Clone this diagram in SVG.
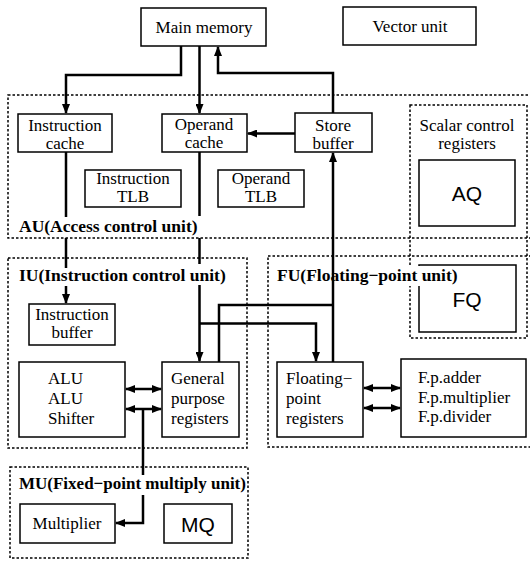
<svg xmlns="http://www.w3.org/2000/svg" width="530" height="564" viewBox="0 0 530 564">
<style>
.box{fill:#fff;stroke:#000;stroke-width:1.5}
.unit{fill:none;stroke:#000;stroke-width:1.5;stroke-dasharray:2.5 2}
.t{font-family:"Liberation Serif","Times New Roman",serif;font-size:17px;fill:#000}
.c{text-anchor:middle}
.lb{font-family:"Liberation Serif","Times New Roman",serif;font-size:17.5px;font-weight:bold;fill:#000}
.q{font-family:"Liberation Sans",Arial,sans-serif;font-size:21px;fill:#000;text-anchor:middle}
.w{fill:none;stroke:#000;stroke-width:2.5}
</style>
<defs>
<marker id="ah" viewBox="0 0 10 8" refX="9" refY="4" markerWidth="10" markerHeight="8" markerUnits="userSpaceOnUse" orient="auto-start-reverse">
<path d="M0,0 L10,4 L0,8 z" fill="#000"/>
</marker>
</defs>
<rect width="530" height="564" fill="#fff"/>

<g id="au">
<rect class="unit" x="8" y="95" width="530" height="143"/>
<text class="lb" x="19" y="232">AU(Access control unit)</text>
</g>
<g id="scalar">
<rect class="unit" x="410" y="105" width="117" height="233"/>
<text class="t c" x="467" y="131">Scalar control</text>
<text class="t c" x="467" y="149">registers</text>
</g>
<g id="iu">
<rect class="unit" x="8" y="258" width="239" height="190"/>
<text class="lb" x="19" y="281">IU(Instruction control unit)</text>
</g>
<g id="mu">
<rect class="unit" x="10" y="467" width="238" height="91"/>
<text class="lb" x="19" y="489" style="font-size:17px">MU(Fixed−point multiply unit)</text>
</g>

<g id="main-memory"><rect class="box" x="141" y="8" width="125" height="38"/><text class="t c" x="204" y="33">Main memory</text></g>
<g id="vector-unit"><rect class="box" x="343" y="7" width="133" height="38"/><text class="t c" x="410" y="32">Vector unit</text></g>
<g id="instruction-cache"><rect class="box" x="18" y="114" width="94" height="38"/><text class="t c" x="65" y="131">Instruction</text><text class="t c" x="65" y="149">cache</text></g>
<g id="operand-cache"><rect class="box" x="162" y="114" width="85" height="38"/><text class="t c" x="204" y="130">Operand</text><text class="t c" x="204" y="148">cache</text></g>
<g id="store-buffer"><rect class="box" x="295" y="113" width="77" height="39"/><text class="t c" x="333" y="131">Store</text><text class="t c" x="333" y="149">buffer</text></g>
<g id="instruction-tlb"><rect class="box" x="85" y="170" width="96" height="37"/><text class="t c" x="133" y="184">Instruction</text><text class="t c" x="133" y="202">TLB</text></g>
<g id="operand-tlb"><rect class="box" x="218" y="170" width="86" height="37"/><text class="t c" x="261" y="184">Operand</text><text class="t c" x="261" y="202">TLB</text></g>
<g id="aq"><rect class="box" x="419" y="160" width="96" height="66"/><text class="q" x="467" y="201">AQ</text></g>
<g id="fq"><rect class="box" x="419" y="265" width="97" height="67"/><text class="q" x="467" y="307">FQ</text></g>
<g id="fu">
<rect class="unit" x="268" y="256" width="270" height="191"/>
<rect x="274" y="266" width="184" height="20" fill="#fff"/>
<text class="lb" x="277" y="281">FU(Floating−point unit)</text>
</g>
<g id="instruction-buffer"><rect class="box" x="29" y="304" width="86" height="41"/><text class="t c" x="72" y="320">Instruction</text><text class="t c" x="72" y="338">buffer</text></g>
<g id="alu"><rect class="box" x="19" y="362" width="106" height="75"/><text class="t" x="48" y="384">ALU</text><text class="t" x="48" y="404">ALU</text><text class="t" x="48" y="424">Shifter</text></g>
<g id="gpr"><rect class="box" x="162" y="362" width="77" height="75"/><text class="t" x="171" y="384">General</text><text class="t" x="171" y="404">purpose</text><text class="t" x="171" y="424">registers</text></g>
<g id="fpr"><rect class="box" x="277" y="362" width="86" height="75"/><text class="t" x="286" y="384">Floating−</text><text class="t" x="286" y="404">point</text><text class="t" x="286" y="424">registers</text></g>
<g id="fp-units"><rect class="box" x="401" y="359" width="125" height="78"/><text class="t" x="418" y="383">F.p.adder</text><text class="t" x="418" y="403">F.p.multiplier</text><text class="t" x="418" y="422">F.p.divider</text></g>
<g id="multiplier"><rect class="box" x="20" y="504" width="95" height="39"/><text class="t c" x="67" y="529">Multiplier</text></g>
<g id="mq"><rect class="box" x="164" y="504" width="68" height="39"/><text class="q" x="198" y="532">MQ</text></g>

<g id="connectors">
<path class="w" d="M181,46 V75 H66 V113" marker-end="url(#ah)"/>
<path class="w" d="M199.5,46 V113" marker-end="url(#ah)"/>
<path class="w" d="M333,113 V73 H218 V47" marker-end="url(#ah)"/>
<path class="w" d="M295,133.5 H248" marker-end="url(#ah)"/>
<path class="w" d="M66,152 V217 M66,238 V268 M66,286 V303" marker-end="url(#ah)"/>
<path class="w" d="M199.5,152 V216 M199.5,238 V264 M199.5,285 V361" marker-end="url(#ah)"/>
<path class="w" d="M199.5,323.5 H316 V361" marker-end="url(#ah)"/>
<path class="w" d="M333,362 V153" marker-end="url(#ah)"/>
<path class="w" d="M219,362 V305 H333"/>
<path class="w" d="M126,389 H161" marker-start="url(#ah)" marker-end="url(#ah)"/>
<path class="w" d="M126,409 H161" marker-start="url(#ah)" marker-end="url(#ah)"/>
<path class="w" d="M364,388 H400" marker-start="url(#ah)" marker-end="url(#ah)"/>
<path class="w" d="M364,408 H400" marker-start="url(#ah)" marker-end="url(#ah)"/>
<path class="w" d="M143,409 V475 M143,495 V523 H116" marker-end="url(#ah)"/>
</g>
</svg>
